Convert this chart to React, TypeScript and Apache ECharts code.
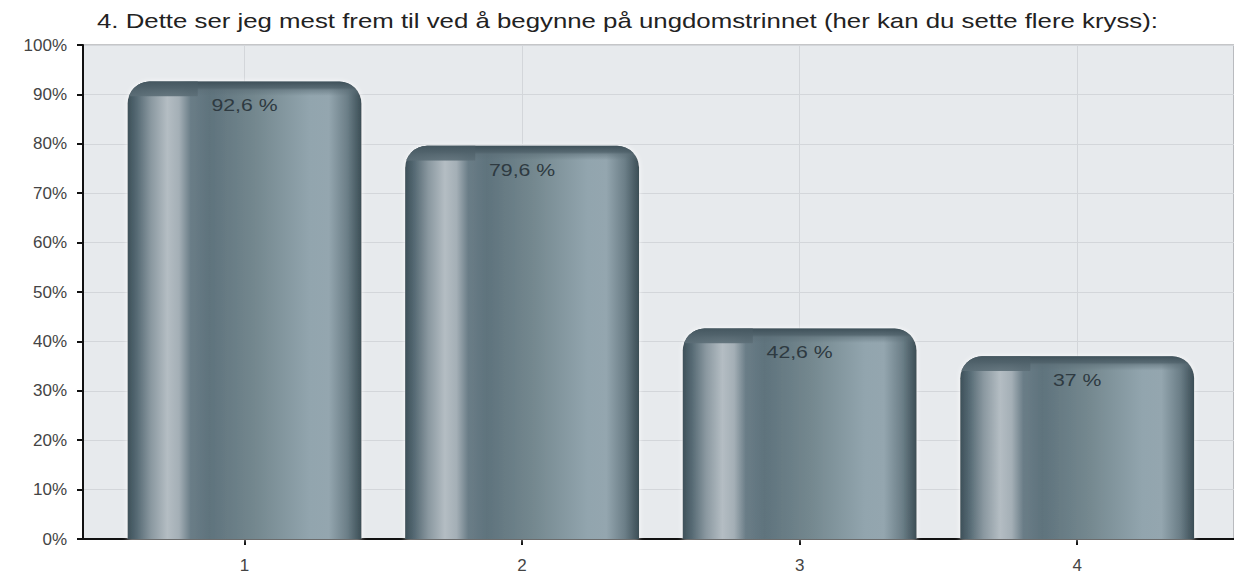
import React, { useEffect, useRef } from "react";
import * as echarts from "echarts";

const TITLE = "4. Dette ser jeg mest frem til ved å begynne på ungdomstrinnet (her kan du sette flere kryss):";
const categories = ["1", "2", "3", "4"];
const values = [92.6, 79.6, 42.6, 37];
const yTicks = [0, 10, 20, 30, 40, 50, 60, 70, 80, 90, 100];

export default function App() {
  const ref = useRef<HTMLDivElement>(null);
  useEffect(() => {
    document.body.style.margin = "0";
    const chart = echarts.init(ref.current!, null, { renderer: "svg" });
    const positions = categories.map((_, i) => i + 1);
    const bodyGrad = () =>
      new echarts.graphic.LinearGradient(0, 0, 1, 0, [
        { offset: 0, color: "#3d5059" },
        { offset: 0.04, color: "#566a74" },
        { offset: 0.1, color: "#8a98a0" },
        { offset: 0.17, color: "#b4bdc3" },
        { offset: 0.22, color: "#a4afb6" },
        { offset: 0.27, color: "#6a7d87" },
        { offset: 0.35, color: "#5f737d" },
        { offset: 0.55, color: "#74888f" },
        { offset: 0.78, color: "#92a5ae" },
        { offset: 0.86, color: "#94a6af" },
        { offset: 0.94, color: "#6b7e87" },
        { offset: 1, color: "#3b4d55" },
      ]);
    const option: any = {
      animation: false,
      backgroundColor: "#ffffff",
      graphic: [
        {
          type: "text",
          x: 97,
          y: 21,
          scaleX: 1.29,
          style: {
            text: TITLE,
            x: 0,
            y: 0,
            verticalAlign: "middle",
            font: "20px Arial, 'Liberation Sans'",
            fill: "#222",
          },
        },
      ],
      grid: {
        left: 83,
        right: 0,
        top: 45,
        bottom: 40,
        show: true,
        backgroundColor: "#e7eaed",
        borderColor: "#8a8d90",
        borderWidth: 1,
      },
      xAxis: {
        type: "value",
        min: 0.418,
        max: 4.565,
        axisLine: { show: true, lineStyle: { color: "#111", width: 2 } },
        axisTick: { show: true, length: 6, customValues: positions, lineStyle: { color: "#111", width: 2 } },
        axisLabel: {
          customValues: positions,
          margin: 18,
          formatter: (v: number) => categories[Math.round(v) - 1] ?? "",
          fontFamily: "Arial, Liberation Sans",
          fontSize: 17,
          color: "#444",
        },
        splitLine: { show: true, lineStyle: { color: "#d3d6da", width: 1 } },
      },
      yAxis: {
        type: "value",
        min: 0,
        max: 100,
        interval: 10,
        axisLine: { show: true, lineStyle: { color: "#111", width: 2 } },
        axisTick: { show: true, length: 6, lineStyle: { color: "#111", width: 2 } },
        axisLabel: {
          margin: 16,
          formatter: (v: number) => (yTicks.includes(v) ? `${v}%` : ""),
          fontFamily: "Arial, Liberation Sans",
          fontSize: 17,
          color: "#444",
        },
        splitLine: { show: true, lineStyle: { color: "#d3d6da", width: 1 } },
      },
      series: [
        {
          type: "custom",
          data: values.map((v, i) => [positions[i], v]),
          renderItem: (params: any, api: any) => {
            const xv = api.value(0);
            const v = api.value(1);
            const top = api.coord([xv, v]);
            const base = api.coord([xv, 0]);
            const w = api.size([1, 0])[0] * 0.843;
            const x0 = top[0] - w / 2;
            const h = base[1] - top[1];
            const r = 22;
            const label = `${String(v).replace(".", ",")} %`;
            return {
              type: "group",
              children: [
                {
                  type: "rect",
                  shape: { x: x0, y: top[1], width: w, height: h, r: [r, r, 0, 0] },
                  style: { fill: bodyGrad(), shadowBlur: 5, shadowColor: "rgba(255,255,255,0.9)" },
                },
                {
                  type: "rect",
                  shape: { x: x0, y: top[1], width: w, height: 32, r: [r, r, 0, 0] },
                  style: {
                    fill: new echarts.graphic.LinearGradient(0, 0, 0, 1, [
                      { offset: 0, color: "rgba(62,80,89,1)" },
                      { offset: 0.2, color: "rgba(78,96,105,0.85)" },
                      { offset: 0.27, color: "rgba(90,108,117,0.5)" },
                      { offset: 0.45, color: "rgba(90,108,117,0)" },
                      { offset: 1, color: "rgba(90,108,117,0)" },
                    ]),
                  },
                },
                {
                  type: "rect",
                  shape: { x: x0, y: top[1], width: w * 0.3, height: 24, r: [r, 0, 0, 0] },
                  style: {
                    fill: new echarts.graphic.LinearGradient(0, 0, 0, 1, [
                      { offset: 0, color: "rgba(70,88,97,0.9)" },
                      { offset: 0.6, color: "rgba(92,110,119,0.9)" },
                      { offset: 0.63, color: "rgba(92,110,119,0)" },
                      { offset: 1, color: "rgba(92,110,119,0)" },
                    ]),
                  },
                },
                {
                  type: "text",
                  x: top[0],
                  y: top[1] + 24,
                  scaleX: 1.25,
                  style: {
                    text: label,
                    x: 0,
                    y: 0,
                    align: "center",
                    verticalAlign: "middle",
                    fill: "#2e3a41",
                    font: "17px Arial, 'Liberation Sans'",
                  },
                },
              ],
            };
          },
        },
      ],
    };
    chart.setOption(option);
    return () => chart.dispose();
  }, []);
  return <div ref={ref} style={{ width: 1234, height: 579 }} />;
}
